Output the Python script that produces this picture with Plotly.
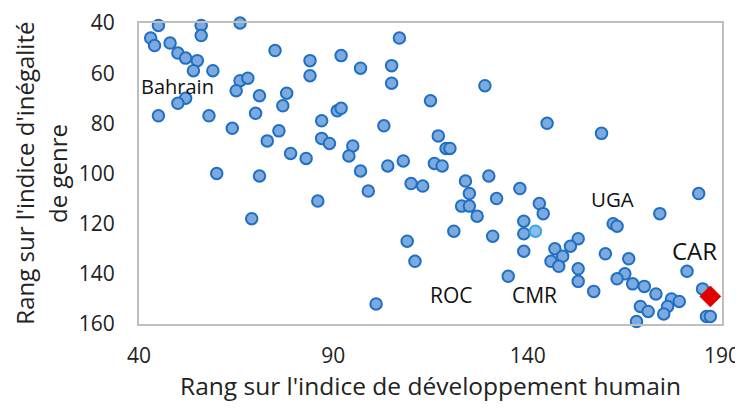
import plotly.graph_objects as go

# rang IDH (x) et rang IIG (y)
idh = [45, 43, 44, 48, 50, 52, 55, 54, 59, 56, 56, 66, 75, 84, 84, 66, 68, 65, 71, 78,
       77, 52, 50, 45, 58, 70, 64, 87, 87, 76, 73, 79, 83, 60, 71, 86, 69, 107, 92, 97,
       105, 105, 129, 115, 91, 92, 103, 117, 89, 95, 94, 119, 120, 108, 104, 116, 118, 97,
       130, 99, 110, 113, 124, 125, 132, 123, 125, 127, 121, 131, 109, 111, 135, 101, 138,
       143, 144, 139, 139, 139, 153, 151, 147, 149, 146, 148, 153, 153, 157, 162, 163, 174,
       184, 160, 166, 165, 163, 167, 170, 173, 177, 179, 176, 175, 169, 171, 168, 181, 185,
       186, 187, 145, 159]
iig = [41, 46, 49, 48, 52, 54, 55, 59, 59, 41, 45, 40, 51, 55, 61, 63, 62, 67, 69, 68,
       73, 70, 72, 77, 77, 76, 82, 79, 86, 83, 87, 92, 94, 100, 101, 111, 118, 46, 53, 58,
       57, 64, 65, 71, 75, 74, 81, 85, 88, 89, 93, 90, 90, 95, 97, 96, 97, 99,
       101, 107, 104, 105, 103, 108, 110, 113, 113, 117, 123, 125, 127, 135, 141, 152, 106,
       112, 116, 119, 124, 131, 126, 129, 130, 133, 135, 137, 138, 143, 147, 120, 121, 116,
       108, 132, 134, 140, 142, 144, 145, 148, 150, 151, 153, 156, 153, 155, 159, 139, 146,
       157, 157, 80, 84]

cmr = (142, 123)  # point mis en évidence
car = (187, 149)  # Centrafrique

labels = ["Bahrain", "ROC", "CMR", "UGA", "CAR"]
label_x = [49.8, 120.4, 141.7, 161.9, 182.8]
label_y = [65.3, 148.4, 148.4, 110.2, 130.8]
label_size = [20, 21, 21, 20.5, 24]

font = "Open Sans, Noto Sans, sans-serif"

fig = go.Figure()
fig.add_trace(go.Scatter(
    x=idh, y=iig, mode="markers",
    marker=dict(size=11.5, color="#7CA9DE", line=dict(color="#1F6FC4", width=2)),
    cliponaxis=False, showlegend=False))
fig.add_trace(go.Scatter(
    x=[cmr[0]], y=[cmr[1]], mode="markers",
    marker=dict(size=11.5, color="#8DBBEA", line=dict(color="#3AA7E0", width=2)),
    cliponaxis=False, showlegend=False))
fig.add_trace(go.Scatter(
    x=[car[0]], y=[car[1]], mode="markers",
    marker=dict(size=16, symbol="diamond", color="#E00000", line=dict(color="#E00000", width=1)),
    cliponaxis=False, showlegend=False))

for t, lx, ly, s in zip(labels, label_x, label_y, label_size):
    fig.add_annotation(x=lx, y=ly, text=t, showarrow=False,
                       font=dict(size=s, color="#111111", family=font))

# titre de l'axe vertical sur deux lignes
fig.add_annotation(xref="paper", yref="paper", x=-0.197, y=0.50, xanchor="center", yanchor="middle",
                   text="Rang sur l'indice d'inégalité", textangle=-90, showarrow=False,
                   font=dict(size=24, color="#222222", family=font))
fig.add_annotation(xref="paper", yref="paper", x=-0.140, y=0.50, xanchor="center", yanchor="middle",
                   text="de genre", textangle=-90, showarrow=False,
                   font=dict(size=24, color="#222222", family=font))

# la page ajoute une marge de 8 px : figure réduite d'autant
fig.update_layout(
    width=735, height=402,
    margin=dict(l=131, r=21, t=15, b=86),
    paper_bgcolor="white", plot_bgcolor="white",
    font=dict(family=font, color="#222222"),
    xaxis=dict(range=[40, 190], tickvals=[40, 90, 140, 190], showgrid=False, zeroline=False,
               showline=True, linecolor="#BFBFBF", linewidth=2, mirror=True, automargin=False,
               ticks="outside", ticklen=12, tickcolor="rgba(0,0,0,0)",
               tickfont=dict(size=21),
               title=dict(text="Rang sur l'indice de développement humain", font=dict(size=24.5), standoff=6)),
    yaxis=dict(range=[160, 40], tickvals=[40, 60, 80, 100, 120, 140, 160], showgrid=False, zeroline=False,
               showline=True, linecolor="#BFBFBF", linewidth=2, mirror=True, automargin=False,
               ticks="outside", ticklen=18, tickcolor="rgba(0,0,0,0)",
               tickfont=dict(size=21)),
)

fig.write_html("out.html")
